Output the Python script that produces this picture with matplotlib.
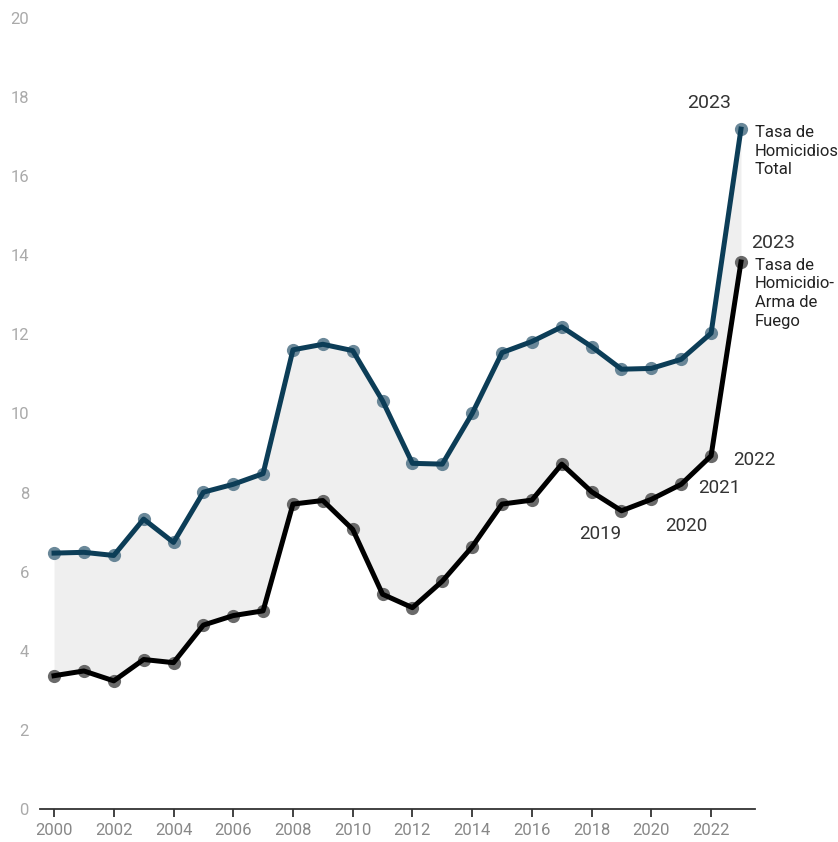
import matplotlib.pyplot as plt

plt.rcParams['font.family'] = ['Roboto', 'DejaVu Sans']

# Datos
anios = list(range(2000, 2024))
tasa_total = [6.47, 6.49, 6.41, 7.33, 6.74, 8.01, 8.21, 8.48, 11.61, 11.75, 11.59, 10.32,
              8.74, 8.72, 10.00, 11.54, 11.82, 12.19, 11.69, 11.12, 11.14, 11.37, 12.03, 17.19]
tasa_arma = [3.37, 3.49, 3.24, 3.78, 3.70, 4.65, 4.89, 5.01, 7.71, 7.80, 7.07, 5.43,
             5.09, 5.76, 6.63, 7.71, 7.81, 8.72, 8.02, 7.54, 7.83, 8.21, 8.93, 13.83]
etiquetas_anio = {2019: (-15, -17, 'center'), 2020: (25, -19, 'center'),
                  2021: (12, -3, 'left'), 2022: (16, -3, 'left')}

azul = '#0c3d57'
fig = plt.figure(figsize=(8.38, 8.42), dpi=100, facecolor='white')
ax = fig.add_axes([40 / 838, 1 - 809 / 842, 715 / 838, 791 / 842])

ax.fill_between(anios, tasa_arma, tasa_total, color='#efefef', lw=0, zorder=1)
# puntos debajo de la línea
ax.plot(anios, tasa_total, 'o', color='#5a7b8e', ms=9.5, mew=0, alpha=0.9, zorder=2)
ax.plot(anios, tasa_total, color=azul, lw=3.6, zorder=3)
ax.plot(anios, tasa_arma, 'o', color='#5a5a5a', ms=9.5, mew=0, alpha=0.9, zorder=2)
ax.plot(anios, tasa_arma, color='black', lw=3.6, zorder=3)

ax.set_xlim(1999.53, 2023.47)
ax.set_ylim(0, 20)
ax.set_xticks(range(2000, 2023, 2))
ax.set_yticks(range(0, 21, 2))
ax.tick_params(axis='x', length=6, width=1.3, color='#333333', labelsize=12, labelcolor='#888888', pad=4)
ax.tick_params(axis='y', length=0, labelsize=12, labelcolor='#aaaaaa', pad=8)
for s in ['top', 'right', 'left']:
    ax.spines[s].set_visible(False)
ax.spines['bottom'].set_color('#333333')
ax.spines['bottom'].set_linewidth(1.3)

# Anotaciones 2023
ax.annotate('2023', (2023, tasa_total[-1]), xytext=(-23, 19), textcoords='offset points',
            ha='center', va='center', fontsize=14, color='#333333')
ax.annotate('Tasa de\nHomicidios\nTotal', (2023, tasa_total[-1]), xytext=(10, 3),
            textcoords='offset points', ha='left', va='top', fontsize=12,
            color='#222222', linespacing=1.3)
ax.annotate('2023', (2023, tasa_arma[-1]), xytext=(23, 14), textcoords='offset points',
            ha='center', va='center', fontsize=14, color='#333333')
ax.annotate('Tasa de\nHomicidio-\nArma de\nFuego', (2023, tasa_arma[-1]), xytext=(10, 3),
            textcoords='offset points', ha='left', va='top', fontsize=12,
            color='#222222', linespacing=1.3)

for anio, (dx, dy, ha) in etiquetas_anio.items():
    ax.annotate(str(anio), (anio, tasa_arma[anios.index(anio)]), xytext=(dx, dy),
                textcoords='offset points', ha=ha, va='center', fontsize=13.5, color='#333333')

fig.savefig('out.png', dpi=100, facecolor='white')
